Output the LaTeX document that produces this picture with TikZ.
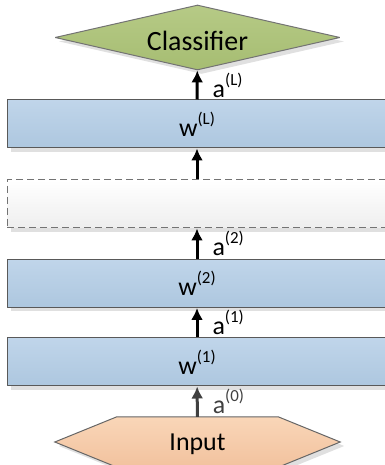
\documentclass[tikz,border=0pt]{standalone}
\usepackage{fontspec}
\setmainfont{Carlito}
\usetikzlibrary{positioning,shapes.geometric,shadows,arrows.meta,backgrounds}
\definecolor{layertop}{HTML}{C0D5EA}
\definecolor{layerbot}{HTML}{ADC7DF}
\definecolor{greentop}{HTML}{B6CA86}
\definecolor{greenbot}{HTML}{A6BD72}
\definecolor{peachtop}{HTML}{F9D6B8}
\definecolor{peachbot}{HTML}{F2C29E}
\definecolor{dotsbot}{HTML}{EEEEEE}
\newcommand{\supidx}[1]{\raisebox{12bp}{\fontsize{17}{17}\selectfont(#1)}}
\tikzset{
  softshadow/.style={drop shadow={shadow xshift=4bp,shadow yshift=-4bp,fill=black,opacity=0.12}},
  layer/.style={draw=black!65,line width=1bp,top color=layertop,bottom color=layerbot,
    minimum width=380bp,minimum height=48bp,inner sep=0pt,softshadow},
  dotslayer/.style={draw=black!55,line width=1bp,dash pattern=on 7bp off 4bp,top color=white,
    bottom color=dotsbot,minimum width=380bp,minimum height=48bp,inner sep=0pt,softshadow},
  alabel/.style={anchor=west,inner sep=0pt,xshift=14bp},
}

\begin{document}
\begin{tikzpicture}[>={Latex[length=12bp,width=12bp]},line join=bevel,
  every node/.style={font=\fontsize{26}{30}\selectfont}]
\useasboundingbox (0bp,0bp) rectangle (385bp,465bp);
%%
\node (classifier) at (197.5bp,427.5bp) [diamond,aspect=4.4,minimum width=285bp,minimum height=65bp,
    inner sep=0pt,text height=26bp,text depth=0pt,draw=black!55,line width=1bp,
    top color=greentop,bottom color=greenbot,softshadow,font=\fontsize{28}{30}\selectfont] {Classifier};
  \node (layer_L) at (197bp,341bp) [layer] {w\supidx{L}};
  \node (layer_dots) at (197bp,261bp) [dotslayer] {};
  \node (layer_2) at (197bp,181.5bp) [layer] {w\supidx{2}};
  \node (layer_1) at (197bp,103bp) [layer] {w\supidx{1}};
  \node (input) at (197.5bp,23bp) [minimum width=285bp,minimum height=50bp,inner sep=0pt,
    text height=17bp,text depth=0pt] {Input};
%
\begin{scope}[on background layer]
  \draw [draw=black!60,line width=1bp,top color=peachtop,bottom color=peachbot,softshadow]
    (input.west) -- ([xshift=62bp]input.north west) -- ([xshift=-62bp]input.north east)
    -- (input.east) -- ([xshift=-62bp]input.south east) -- ([xshift=62bp]input.south west) -- cycle;
\end{scope}
%
  \draw [black!75,line width=3bp,->] (input) -- node (lab_0) [alabel] {a\supidx{0}} (layer_1);
  \draw [black,line width=3bp,->] (layer_1) -- node (lab_1) [alabel] {a\supidx{1}} (layer_2);
  \draw [black,line width=3bp,->] (layer_2) -- node (lab_2) [alabel] {a\supidx{2}} (layer_dots);
  \draw [black,line width=3bp,->] (layer_dots) -- (layer_L);
  \draw [black,line width=3bp,->] (layer_L) -- node (lab_L) [alabel] {a\supidx{L}} (classifier);
%
\end{tikzpicture}
\end{document}
